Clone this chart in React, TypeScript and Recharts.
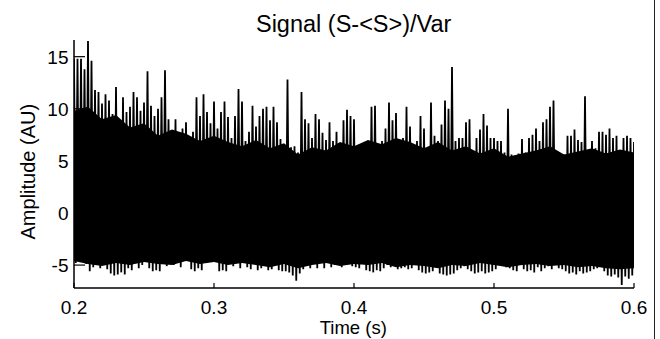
import React from 'react';
import { ComposedChart, Line, Area, XAxis, YAxis } from 'recharts';

const TITLE = 'Signal (S-<S>)/Var';
const X_LABEL = 'Time (s)';
const Y_LABEL = 'Amplitude (AU)';
const X_TICKS = [0.2, 0.3, 0.4, 0.5, 0.6];
const Y_TICKS = [-5, 0, 5, 10, 15];
const X_DOMAIN = [0.2, 0.6];
const Y_DOMAIN = [-7.2, 16.6];
const T_START = 0.2;
const T_STEP = 0.0025;

// per-bin maxima of the signal, bins of 2.5 ms
const upper = [
  14.8, 14.8, 14.8, 13.8, 16.5, 14.6, 11.8, 11.6, 10.5, 11.4,
  10.8, 9.5, 12.1, 8.8, 11.1, 9.7, 10.2, 11.6, 11.1, 9.8,
  10.6, 13.6, 10.3, 9.3, 10.0, 11.1, 13.7, 9.0, 7.8, 9.0,
  7.5, 8.1, 8.7, 7.2, 7.8, 11.1, 9.3, 11.4, 9.7, 8.6,
  10.7, 8.1, 9.7, 10.7, 9.2, 7.2, 9.3, 11.9, 10.7, 6.9,
  7.8, 10.3, 8.3, 9.3, 10.0, 10.2, 8.9, 10.2, 8.7, 7.1,
  5.9, 12.8, 6.3, 6.4, 5.8, 11.6, 9.0, 8.6, 7.2, 9.5,
  9.0, 7.7, 7.0, 8.7, 6.9, 7.8, 6.0, 8.9, 9.9, 9.3,
  9.0, 6.3, 6.5, 5.8, 5.9, 10.2, 10.3, 5.8, 6.9, 8.1,
  10.6, 8.9, 9.6, 5.8, 7.2, 10.2, 8.3, 6.0, 6.9, 9.3,
  8.1, 5.8, 10.6, 7.4, 6.9, 8.5, 10.8, 10.0, 14.0, 6.9,
  7.2, 7.2, 8.7, 9.0, 5.8, 7.2, 8.0, 9.5, 8.4, 7.2,
  7.2, 6.9, 6.9, 5.8, 10.0, 5.6, 5.5, 5.7, 7.1, 5.8,
  7.2, 7.5, 8.1, 6.9, 8.7, 9.0, 10.2, 10.8, 5.6, 5.5,
  5.6, 7.4, 7.4, 8.0, 7.0, 6.8, 11.2, 5.6, 6.9, 6.2,
  7.8, 7.8, 7.5, 8.1, 7.2, 7.4, 5.8, 7.2, 7.4, 7.2,
  6.8,
];

// per-bin minima of the signal
const lower = [
  -4.8, -4.6, -3.6, -4.9, -5.6, -5.2, -4.2, -5.3, -5.0, -5.4,
  -5.8, -6.0, -5.9, -5.7, -5.9, -5.3, -5.5, -4.2, -5.3, -5.0,
  -4.2, -5.3, -5.6, -5.5, -5.6, -3.8, -5.1, -4.6, -5.0, -4.8,
  -5.2, -3.7, -3.9, -5.4, -5.6, -5.3, -5.5, -4.6, -3.8, -4.5,
  -4.0, -5.6, -5.5, -5.6, -4.2, -5.1, -4.8, -5.3, -4.5, -5.2,
  -5.4, -4.6, -5.5, -5.3, -4.4, -5.5, -5.4, -4.8, -5.5, -5.6,
  -5.6, -5.7, -6.0, -6.5, -5.8, -5.4, -5.0, -5.3, -4.6, -5.3,
  -4.7, -5.3, -4.6, -5.2, -5.0, -4.4, -5.2, -5.0, -4.3, -5.1,
  -5.2, -5.3, -4.4, -5.5, -5.6, -5.7, -5.5, -5.6, -5.3, -5.0,
  -5.2, -4.3, -5.4, -5.3, -5.2, -5.4, -5.3, -4.4, -5.5, -5.7,
  -5.8, -5.7, -5.6, -4.8, -5.8, -5.9, -6.0, -5.9, -5.8, -5.5,
  -5.3, -5.1, -5.4, -5.6, -5.8, -5.7, -5.6, -5.8, -5.7, -5.6,
  -5.4, -5.0, -4.9, -5.2, -5.3, -5.5, -5.6, -4.2, -5.4, -5.6,
  -5.5, -5.7, -5.2, -5.6, -5.3, -5.1, -5.4, -4.8, -5.3, -5.4,
  -5.6, -5.8, -5.7, -5.9, -5.6, -5.8, -5.7, -5.6, -5.4, -5.3,
  -5.1, -5.6, -6.0, -6.1, -5.9, -6.2, -6.9, -6.1, -6.3, -6.0,
];

// edges of the fully black core of the trace, every 10 ms
const coreTimes = [0.2, 0.21, 0.22, 0.23, 0.24, 0.25, 0.26, 0.27, 0.28, 0.29, 0.3,
  0.31, 0.32, 0.33, 0.34, 0.35, 0.36, 0.37, 0.38, 0.39, 0.4,
  0.41, 0.42, 0.43, 0.44, 0.45, 0.46, 0.47, 0.48, 0.49, 0.5,
  0.51, 0.52, 0.53, 0.54, 0.55, 0.56, 0.57, 0.58, 0.59, 0.6];
const coreTop = [9.8, 10.2, 9.0, 9.4, 8.2, 8.6, 7.4, 8.0, 7.6, 6.9, 7.4,
  6.8, 6.4, 7.0, 6.2, 6.7, 5.6, 6.3, 6.0, 6.8, 6.4,
  7.0, 6.6, 7.2, 6.8, 6.2, 6.8, 6.0, 6.4, 5.7, 6.2,
  5.4, 5.7, 6.0, 6.4, 5.6, 5.9, 6.2, 5.7, 6.1, 5.8];
const coreBottom = [-4.6, -4.9, -5.1, -4.8, -5.0, -4.7, -4.9, -5.0, -4.6, -4.9, -4.7,
  -5.0, -4.8, -5.0, -5.2, -4.9, -5.3, -5.0, -4.8, -5.1, -4.9,
  -5.0, -4.8, -5.2, -5.0, -5.1, -5.3, -5.0, -5.1, -4.8, -5.0,
  -5.2, -5.0, -4.9, -5.1, -5.0, -5.2, -5.1, -5.3, -5.4, -5.3];

const signal: { t: number; v: number }[] = [];
upper.forEach((hi, i) => {
  signal.push({ t: T_START + i * T_STEP, v: hi });
  if (i < lower.length) signal.push({ t: T_START + (i + 0.5) * T_STEP, v: lower[i] });
});
const core = coreTimes.map((t, i) => ({ t, band: [coreBottom[i], coreTop[i]] }));

const FONT = '"Liberation Sans", Arial, Helvetica, sans-serif';
const TICK_FONT = 19;

const BottomTick = (p: any) => (
  <g>
    <line x1={p.x} x2={p.x} y1={p.y} y2={p.y - 5} stroke="#000" strokeWidth={1.2} />
    <text x={p.x} y={p.y + 25.5} textAnchor="middle" fontSize={TICK_FONT} fontFamily={FONT} fill="#000">
      {String(p.payload.value)}
    </text>
  </g>
);
const TopTick = (p: any) => (
  <line x1={p.x} x2={p.x} y1={p.y} y2={p.y + 5} stroke="#000" strokeWidth={1.2} />
);
const LeftTick = (p: any) => (
  <g>
    <line x1={p.x} x2={p.x + 11} y1={p.y} y2={p.y} stroke="#000" strokeWidth={1.2} />
    <text x={p.x - 5.5} y={p.y} dy="0.36em" textAnchor="end" fontSize={TICK_FONT} fontFamily={FONT} fill="#000">
      {String(p.payload.value)}
    </text>
  </g>
);
const RightTick = (p: any) => (
  <line x1={p.x} x2={p.x - 11} y1={p.y} y2={p.y} stroke="#000" strokeWidth={1.2} />
);

const axisLine = { stroke: '#000', strokeWidth: 1.5 };

export default function App() {
  return (
    <div style={{ position: 'absolute', left: 0, top: 0, width: 660, height: 339, background: '#fff' }}>
      <ComposedChart width={660} height={339} margin={{ top: 40, right: 26, bottom: 0, left: 0 }}>
        <XAxis xAxisId="b" dataKey="t" type="number" domain={X_DOMAIN} ticks={X_TICKS} interval={0}
          allowDataOverflow height={51} axisLine={axisLine} tickLine={false} tickSize={0} tickMargin={0} tick={<BottomTick />} />
        <XAxis xAxisId="t" orientation="top" dataKey="t" type="number" domain={X_DOMAIN} ticks={X_TICKS} interval={0}
          allowDataOverflow height={0} axisLine={axisLine} tickLine={false} tickSize={0} tickMargin={0} tick={<TopTick />} />
        <YAxis yAxisId="l" type="number" domain={Y_DOMAIN} ticks={Y_TICKS} interval={0} allowDataOverflow
          width={74} axisLine={axisLine} tickLine={false} tickSize={0} tickMargin={0} tick={<LeftTick />} />
        <YAxis yAxisId="r" orientation="right" type="number" domain={Y_DOMAIN} ticks={Y_TICKS} interval={0} allowDataOverflow
          width={0} axisLine={axisLine} tickLine={false} tickSize={0} tickMargin={0} tick={<RightTick />} />
        <Area xAxisId="b" yAxisId="l" data={core} dataKey="band" type="linear" stroke="none" fill="#000"
          fillOpacity={1} dot={false} activeDot={false} isAnimationActive={false} />
        <Line xAxisId="b" yAxisId="l" data={signal} dataKey="v" type="linear" stroke="#000" strokeWidth={1.8}
          dot={false} activeDot={false} isAnimationActive={false} />
      </ComposedChart>
      <svg width={660} height={339} style={{ position: 'absolute', left: 0, top: 0, pointerEvents: 'none' }}>
        <text x={353.7} y={31.5} textAnchor="middle" fontSize={23.5} fontFamily={FONT} fill="#000">{TITLE}</text>
        <text x={353.3} y={333.5} textAnchor="middle" fontSize={18.5} fontFamily={FONT} fill="#000">{X_LABEL}</text>
        <text transform="translate(35,171.7) rotate(-90)" textAnchor="middle" fontSize={20} fontFamily={FONT} fill="#000">{Y_LABEL}</text>
        <line x1={654.5} x2={654.5} y1={0} y2={339} stroke="#222" strokeWidth={1} />
      </svg>
    </div>
  );
}
